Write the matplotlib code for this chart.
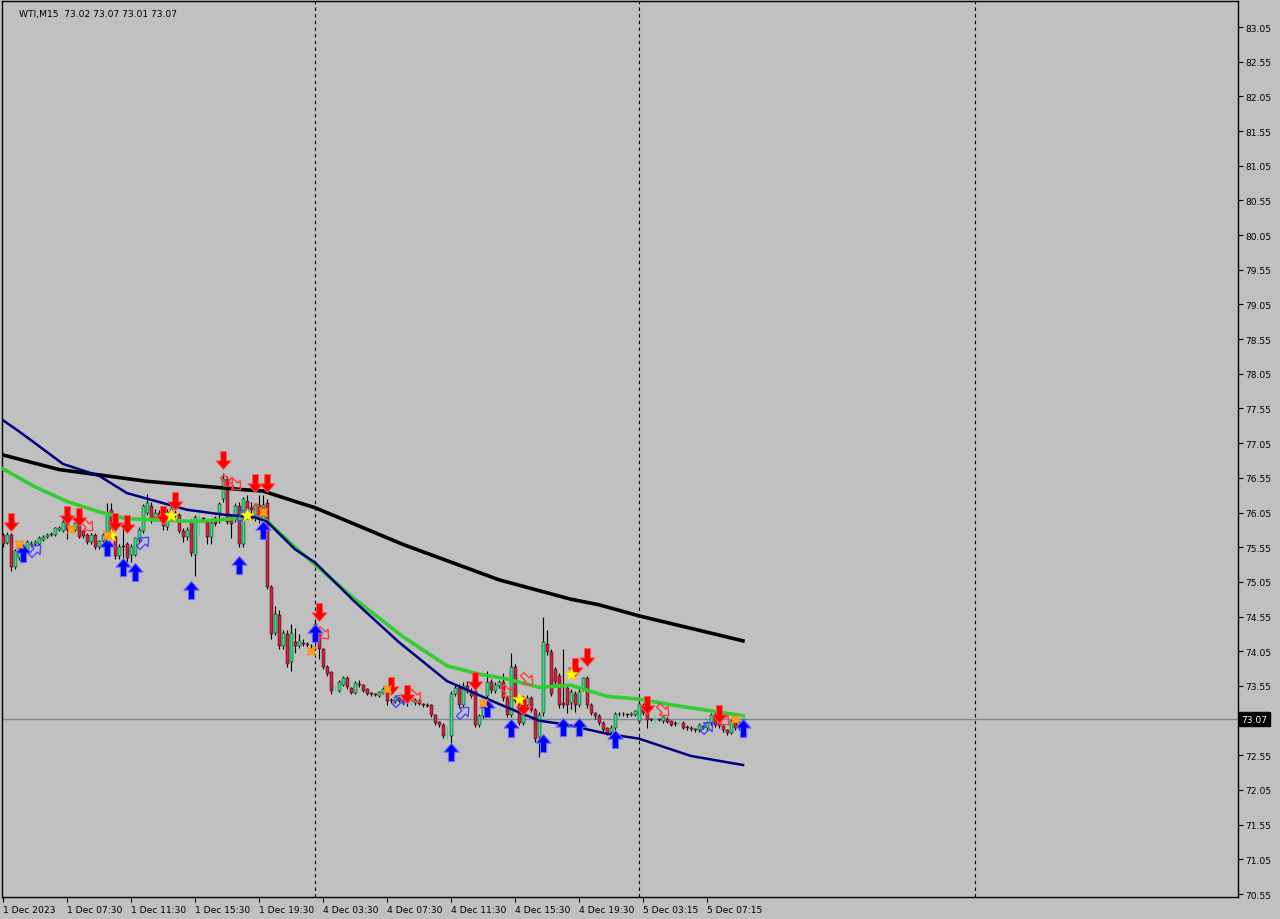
import matplotlib
matplotlib.use("Agg")
import matplotlib.pyplot as plt
import numpy as np
from matplotlib.path import Path
from matplotlib.transforms import Affine2D

# --- WTI M15 bars (bar index 0 = first visible bar) ---
opens = [75.73, 75.61, 75.72, 75.27, 75.40, 75.45, 75.50, 75.58, 75.59, 75.60,
         75.66, 75.70, 75.72, 75.73, 75.80, 75.79, 75.92, 75.80, 75.80, 75.88,
         75.78, 75.73, 75.62, 75.73, 75.55, 75.64, 75.73, 76.09, 75.70, 75.42,
         75.56, 75.59, 75.44, 75.44, 75.66, 75.78, 76.05, 76.14, 75.97, 76.05,
         76.09, 75.84, 76.10, 76.04, 76.02, 75.79, 75.70, 75.91, 75.44, 75.98,
         75.97, 75.92, 75.70, 75.97, 76.05, 76.24, 76.53, 75.98, 75.95, 76.14,
         75.59, 76.22, 76.12, 75.98, 76.16, 75.95, 76.19, 74.98, 74.32, 74.57,
         74.12, 74.30, 73.89, 74.18, 74.12, 74.17, 74.15, 74.13, 74.44, 74.30,
         74.08, 73.83, 73.75, 73.50, 73.48, 73.57, 73.66, 73.52, 73.45, 73.58,
         73.56, 73.50, 73.44, 73.43, 73.41, 73.45, 73.52, 73.35, 73.33, 73.37,
         73.35, 73.31, 73.30, 73.30, 73.34, 73.29, 73.28, 73.27, 73.13, 73.03,
         72.99, 72.84, 72.83, 73.44, 73.52, 73.27, 73.55, 73.48, 73.47, 72.99,
         73.11, 73.41, 73.60, 73.48, 73.55, 73.60, 73.37, 73.13, 73.83, 73.34,
         73.02, 73.27, 73.37, 73.20, 72.81, 73.16, 74.15, 74.04, 73.79, 73.69,
         73.30, 73.52, 73.30, 73.44, 73.27, 73.51, 73.67, 73.27, 73.16, 73.11,
         73.02, 72.94, 72.88, 72.94, 73.14, 73.15, 73.14, 73.13, 73.13, 73.05,
         73.27, 73.19, 73.07, 73.06, 73.07, 73.04, 73.08, 73.04, 73.02, 73.00,
         73.02, 72.96, 72.95, 72.93, 72.91, 72.97, 72.94, 73.01, 73.13, 73.02,
         72.97, 72.91, 72.87, 73.04, 72.94, 73.02]
highs = [75.76, 75.77, 75.75, 75.52, 75.60, 75.60, 75.65, 75.64, 75.65, 75.71,
         75.73, 75.75, 75.77, 75.84, 75.85, 75.97, 75.95, 75.85, 75.93, 75.92,
         75.80, 75.76, 75.76, 75.75, 75.66, 75.76, 76.19, 76.19, 75.73, 75.60,
         75.85, 75.62, 75.60, 75.70, 75.84, 76.17, 76.32, 76.20, 76.10, 76.08,
         76.12, 76.10, 76.14, 76.08, 76.05, 75.82, 75.84, 75.95, 76.02, 76.10,
         75.99, 75.95, 75.93, 76.00, 76.20, 76.62, 76.58, 76.02, 76.19, 76.20,
         76.28, 76.30, 76.20, 76.19, 76.30, 76.30, 76.25, 75.00, 74.70, 74.65,
         74.36, 74.35, 74.45, 74.38, 74.30, 74.23, 74.18, 74.16, 74.52, 74.35,
         74.10, 73.85, 73.77, 73.55, 73.63, 73.70, 73.69, 73.54, 73.62, 73.64,
         73.58, 73.52, 73.46, 73.45, 73.48, 73.53, 73.54, 73.38, 73.41, 73.39,
         73.37, 73.33, 73.35, 73.37, 73.36, 73.31, 73.30, 73.29, 73.15, 73.05,
         73.01, 72.97, 73.48, 73.56, 73.58, 73.60, 73.62, 73.52, 73.50, 73.14,
         73.30, 73.76, 73.65, 73.60, 73.63, 73.74, 73.40, 74.03, 73.86, 73.37,
         73.40, 73.42, 73.40, 73.23, 73.18, 74.55, 74.35, 74.08, 73.82, 73.73,
         74.08, 73.55, 73.50, 73.48, 73.52, 73.68, 73.70, 73.30, 73.18, 73.14,
         73.04, 72.96, 72.98, 73.18, 73.18, 73.17, 73.16, 73.18, 73.21, 73.33,
         73.30, 73.21, 73.09, 73.13, 73.09, 73.12, 73.10, 73.06, 73.04, 73.04,
         73.04, 72.98, 72.97, 72.95, 73.01, 72.99, 73.04, 73.16, 73.20, 73.05,
         72.99, 72.93, 73.06, 73.07, 73.04, 73.07]
lows = [75.56, 75.59, 75.20, 75.24, 75.36, 75.42, 75.47, 75.55, 75.57, 75.58,
        75.64, 75.68, 75.71, 75.71, 75.78, 75.77, 75.67, 75.77, 75.78, 75.68,
        75.68, 75.60, 75.60, 75.52, 75.52, 75.62, 75.71, 75.68, 75.38, 75.38,
        75.40, 75.34, 75.34, 75.42, 75.63, 75.75, 76.02, 75.90, 75.93, 75.95,
        75.80, 75.80, 76.02, 75.98, 75.75, 75.63, 75.66, 75.42, 75.13, 75.73,
        75.92, 75.60, 75.59, 75.85, 75.90, 76.20, 75.88, 75.69, 75.92, 75.55,
        75.55, 76.05, 75.95, 75.93, 75.90, 75.92, 74.95, 74.22, 74.28, 74.08,
        74.08, 73.83, 73.76, 74.03, 74.10, 74.12, 74.11, 74.09, 74.12, 73.94,
        73.80, 73.70, 73.44, 73.47, 73.46, 73.55, 73.50, 73.43, 73.43, 73.54,
        73.46, 73.42, 73.41, 73.40, 73.39, 73.43, 73.28, 73.30, 73.31, 73.32,
        73.28, 73.26, 73.27, 73.28, 73.27, 73.25, 73.24, 73.10, 72.99, 72.96,
        72.80, 72.78, 72.70, 73.41, 73.23, 73.24, 73.45, 73.37, 72.96, 72.96,
        73.09, 73.38, 73.45, 73.45, 73.52, 73.34, 73.10, 73.10, 73.30, 72.98,
        72.99, 73.24, 73.17, 72.74, 72.52, 73.12, 74.00, 73.40, 73.55, 73.23,
        73.23, 73.16, 73.22, 73.18, 73.24, 73.48, 73.23, 73.13, 73.08, 72.99,
        72.89, 72.84, 72.86, 72.92, 73.12, 73.11, 73.10, 73.11, 73.11, 73.02,
        73.13, 72.94, 73.04, 73.01, 73.04, 73.02, 73.01, 72.97, 72.97, 72.98,
        72.93, 72.92, 72.90, 72.89, 72.89, 72.93, 72.92, 72.99, 72.96, 72.94,
        72.88, 72.84, 72.85, 72.92, 72.92, 73.01]
closes = [75.59, 75.73, 75.27, 75.49, 75.56, 75.55, 75.62, 75.60, 75.62, 75.68,
          75.70, 75.73, 75.74, 75.82, 75.82, 75.92, 75.80, 75.81, 75.90, 75.70,
          75.71, 75.63, 75.73, 75.55, 75.64, 75.73, 76.05, 75.70, 75.42, 75.56,
          75.55, 75.40, 75.56, 75.68, 75.80, 76.14, 76.19, 75.95, 76.05, 75.99,
          75.85, 76.06, 76.06, 76.02, 75.79, 75.70, 75.80, 75.47, 75.98, 75.98,
          75.95, 75.70, 75.90, 75.88, 76.17, 76.53, 75.91, 75.88, 76.14, 75.59,
          76.24, 76.10, 76.08, 76.16, 75.95, 76.16, 74.98, 74.30, 74.58, 74.12,
          74.31, 73.86, 74.32, 74.13, 74.20, 74.16, 74.14, 74.12, 74.18, 74.08,
          73.83, 73.72, 73.48, 73.50, 73.60, 73.67, 73.53, 73.45, 73.59, 73.56,
          73.48, 73.44, 73.43, 73.42, 73.46, 73.51, 73.33, 73.33, 73.39, 73.34,
          73.30, 73.30, 73.30, 73.35, 73.29, 73.27, 73.26, 73.13, 73.02, 72.99,
          72.83, 72.84, 73.44, 73.52, 73.27, 73.55, 73.48, 73.40, 72.99, 73.11,
          73.27, 73.60, 73.49, 73.56, 73.60, 73.37, 73.13, 73.83, 73.34, 73.02,
          73.30, 73.37, 73.20, 72.78, 73.13, 74.18, 74.04, 73.44, 73.60, 73.27,
          73.27, 73.27, 73.46, 73.27, 73.46, 73.66, 73.27, 73.16, 73.11, 73.02,
          72.91, 72.87, 72.95, 73.14, 73.15, 73.14, 73.13, 73.15, 73.19, 73.29,
          73.16, 73.06, 73.06, 73.06, 73.06, 73.10, 73.03, 72.99, 73.00, 73.00,
          72.95, 72.95, 72.93, 72.91, 72.99, 72.95, 73.02, 73.13, 72.99, 72.97,
          72.91, 72.87, 73.04, 72.94, 73.02, 73.07]

# moving averages, read at sample bars
ma_slow_bar = [0, 14, 36, 60, 65, 73, 78, 88, 100, 124, 142, 149, 159, 185]
ma_slow_val = [76.88, 76.67, 76.50, 76.38, 76.36, 76.21, 76.12, 75.88, 75.59,
               75.08, 74.80, 74.72, 74.56, 74.20]
ma_mid_bar = [0, 8, 16, 24, 31, 36, 48, 55, 63, 66, 73, 78, 88, 100, 111, 119,
              126, 134, 142, 151, 159, 169, 185]
ma_mid_val = [76.68, 76.42, 76.21, 76.06, 75.96, 75.95, 75.92, 75.95, 75.98,
              75.93, 75.55, 75.30, 74.80, 74.26, 73.84, 73.72, 73.65, 73.53,
              73.56, 73.40, 73.36, 73.26, 73.12]
ma_fast_bar = [0, 4, 8, 15, 24, 31, 36, 46, 55, 63, 66, 73, 78, 88, 99, 111, 124,
               134, 141, 151, 159, 172, 185]
ma_fast_val = [77.38, 77.22, 77.05, 76.75, 76.58, 76.33, 76.25, 76.09, 76.02,
               75.98, 75.92, 75.52, 75.33, 74.76, 74.18, 73.62, 73.29, 73.05,
               72.99, 72.86, 72.79, 72.54, 72.41]

# signal markers (bar, price)
sell_bar = [2, 16, 19, 28, 31, 40, 43, 55, 63, 66, 79, 97, 101, 118, 130, 143, 146, 161, 179]
sell_px = [75.92, 76.02, 75.98, 75.92, 75.88, 76.02, 76.21, 76.81, 76.48, 76.48,
           74.62, 73.55, 73.43, 73.62, 73.26, 73.82, 73.97, 73.27, 73.14]
buy_bar = [5, 26, 30, 33, 47, 59, 65, 78, 112, 121, 127, 135, 140, 144, 153, 185]
buy_px = [75.47, 75.56, 75.27, 75.19, 74.94, 75.30, 75.80, 74.32, 72.60, 73.23,
          72.94, 72.73, 72.96, 72.96, 72.79, 72.94]
exit_sell_bar = [21, 56, 58, 64, 80, 103, 126, 131, 165, 180]
exit_sell_px = [75.87, 76.50, 76.46, 76.08, 74.31, 73.40, 73.48, 73.65, 73.21, 73.08]
exit_buy_bar = [8, 35, 60, 99, 115, 176]
exit_buy_px = [75.51, 75.62, 76.02, 73.35, 73.17, 72.96]
star_bar = [27, 42, 61, 129, 142]
star_px = [75.73, 76.02, 76.02, 73.36, 73.72]
cross_bar = [4, 17, 26, 65, 77, 96, 120, 183]
cross_px = [75.59, 75.81, 75.73, 76.06, 74.06, 73.51, 73.30, 73.07]

day_breaks = [78.0, 159.0, 243.0]
tick_bars = [0, 16, 32, 48, 64, 80, 96, 112, 128, 144, 160, 176]
tick_labels = ["1 Dec 2023", "1 Dec 07:30", "1 Dec 11:30", "1 Dec 15:30",
               "1 Dec 19:30", "4 Dec 03:30", "4 Dec 07:30", "4 Dec 11:30",
               "4 Dec 15:30", "4 Dec 19:30", "5 Dec 03:15", "5 Dec 07:15"]
price_ticks = [83.05 - 0.5 * k for k in range(26)]
last_price = 73.07
header = "WTI,M15  73.02 73.07 73.01 73.07"

BG = "#c0c0c0"
BULL = "#30e080"
BEAR = "#d81e3c"

plt.rcParams["font.family"] = ["DejaVu Sans"]
fig = plt.figure(figsize=(12.8, 9.2), dpi=100, facecolor=BG)
ax = fig.add_axes([2 / 1280, 22 / 920, 1236 / 1280, 896 / 920], facecolor=BG)


def arrow_path(angle):
    v = [(-0.17, 0.5), (0.17, 0.5), (0.17, -0.02), (0.42, -0.02), (0.0, -0.5),
         (-0.42, -0.02), (-0.17, -0.02), (-0.17, 0.5)]
    p = Path(v, closed=True)
    return p.transformed(Affine2D().rotate_deg(angle))


# candles
idx = np.arange(len(closes))
o = np.array(opens)
c = np.array(closes)
doji = o == c
wick_col = ["#30e080" if d else "black" for d in doji]
ax.vlines(idx, lows, highs, colors=wick_col, linewidth=0.8, zorder=3)
body_lo = np.minimum(o, c)
body_h = np.maximum(np.abs(c - o), 0.012)
cols = [BULL if cc > oo else BEAR for oo, cc in zip(o, c)]
keep = ~doji
ax.bar(idx[keep], body_h[keep], bottom=body_lo[keep], width=0.75,
       color=np.array(cols)[keep], edgecolor="black", linewidth=0.3, zorder=4)

# moving averages
ax.plot(ma_slow_bar, ma_slow_val, color="black", lw=2.6, zorder=5)
ax.plot(ma_mid_bar, ma_mid_val, color="#32cd32", lw=2.6, zorder=5)
ax.plot(ma_fast_bar, ma_fast_val, color="#000080", lw=1.8, zorder=6)

# signals
ax.plot(sell_bar, sell_px, ls="none", marker=arrow_path(0), ms=13,
        mfc="#ff0000", mec="#ff5a5a", mew=0.6, zorder=8)
ax.plot(buy_bar, buy_px, ls="none", marker=arrow_path(180), ms=13,
        mfc="#0000ff", mec="#6a6aff", mew=0.8, zorder=8)
ax.plot(exit_sell_bar, exit_sell_px, ls="none", marker=arrow_path(45), ms=10,
        mfc="none", mec="#ff3c3c", mew=1.0, zorder=7)
ax.plot(exit_buy_bar, exit_buy_px, ls="none", marker=arrow_path(135), ms=10,
        mfc="none", mec="#4646ff", mew=1.0, zorder=7)
ax.plot(star_bar, star_px, ls="none", marker="*", ms=10, color="#ffff00",
        mec="#e6c800", mew=0.4, zorder=9)
ax.plot(cross_bar, cross_px, ls="none", marker=(4, 1, 45), ms=8,
        color="#ffa020", mec="#ff8c00", mew=0.6, zorder=9)

# current price line
ax.axhline(last_price, color="#778899", lw=1.0, zorder=2)
for d in day_breaks:
    ax.axvline(d, color="black", lw=0.8, ls=(0, (3, 3)), zorder=1)

ax.set_xlim(-0.25, 308.75)
ax.set_ylim(70.507, 83.425)

ax.yaxis.tick_right()
ax.set_yticks(price_ticks)
# the label nearest the last price sits under the price box, as in the terminal
ax.set_yticklabels(["" if abs(p - last_price) < 0.1 else f"{p:.2f}" for p in price_ticks])
ax.set_xticks(tick_bars)
ax.set_xticklabels(tick_labels)
for lab in ax.get_xticklabels():
    lab.set_horizontalalignment("left")
ax.tick_params(axis="both", direction="out", length=3.5, width=0.8,
               labelsize=6.6, colors="black", pad=2)
ax.tick_params(axis="x", pad=2)
for sp in ax.spines.values():
    sp.set_color("black")
    sp.set_linewidth(1.0)

ax.text(0.0135, 0.9915, header, transform=ax.transAxes, fontsize=6.6,
        va="top", ha="left", color="black")
ax.annotate(f"{last_price:.2f}", xy=(1.0, last_price),
            xycoords=("axes fraction", "data"), xytext=(2.5, 0),
            textcoords="offset points", va="center", ha="left", fontsize=6.6,
            color="white",
            bbox=dict(boxstyle="square,pad=0.25", fc="black", ec="black"))

fig.savefig("out.png", dpi=100, facecolor=BG)
